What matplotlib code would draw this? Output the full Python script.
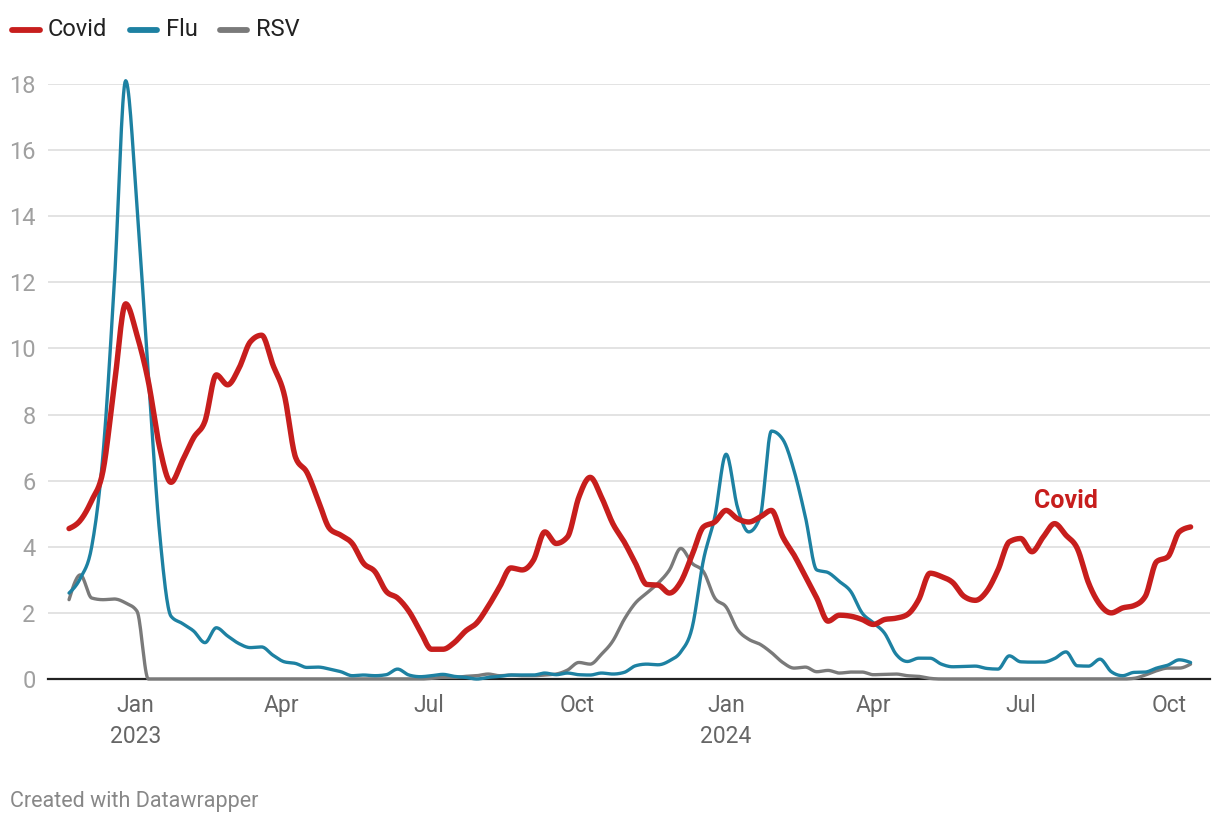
import numpy as np
import pandas as pd
import matplotlib.pyplot as plt
import matplotlib.dates as mdates

plt.rcParams['font.family'] = ['Roboto', 'DejaVu Sans']

# weekly values, Nov 2022 - Oct 2024
weeks = pd.date_range('2022-11-21', periods=100, freq='7D')

covid = [4.55, 4.8, 5.4, 6.3, 8.9, 11.35, 10.4, 9.0, 7.0, 5.95,
         6.6, 7.3, 7.8, 9.2, 8.9, 9.4, 10.2, 10.4, 9.5, 8.6,
         6.7, 6.25, 5.4, 4.55, 4.35, 4.1, 3.5, 3.25, 2.65, 2.45,
         2.05, 1.45, 0.9, 0.9, 1.1, 1.45, 1.7, 2.2, 2.78, 3.36,
         3.3, 3.6, 4.45, 4.1, 4.3, 5.5, 6.1, 5.5, 4.7, 4.15,
         3.5, 2.86, 2.84, 2.6, 2.94, 3.75, 4.6, 4.75, 5.1, 4.85,
         4.75, 4.9, 5.1, 4.3, 3.75, 3.1, 2.45, 1.75, 1.93, 1.9,
         1.8, 1.65, 1.8, 1.84, 1.95, 2.4, 3.2, 3.1, 2.92, 2.5,
         2.38, 2.65, 3.3, 4.15, 4.25, 3.85, 4.3, 4.7, 4.35, 3.95,
         2.9, 2.25, 2.0, 2.15, 2.22, 2.5, 3.55, 3.7, 4.45, 4.6]

flu = [2.6, 3.05, 4.0, 6.8, 12.0, 18.1, 14.3, 9.2, 4.4, 1.9,
       1.68, 1.45, 1.1, 1.55, 1.3, 1.07, 0.95, 0.97, 0.72, 0.52,
       0.47, 0.35, 0.36, 0.3, 0.22, 0.1, 0.12, 0.1, 0.13, 0.3,
       0.12, 0.07, 0.1, 0.14, 0.08, 0.05, 0.0, 0.05, 0.08, 0.12,
       0.12, 0.12, 0.18, 0.13, 0.18, 0.13, 0.12, 0.18, 0.15, 0.2,
       0.4, 0.45, 0.43, 0.55, 0.82, 1.55, 3.6, 4.9, 6.8, 5.2,
       4.45, 4.9, 7.5, 7.25, 6.3, 4.9, 3.3, 3.22, 2.95, 2.65,
       2.0, 1.7, 1.38, 0.75, 0.53, 0.63, 0.63, 0.45, 0.37, 0.38,
       0.39, 0.32, 0.3, 0.7, 0.52, 0.51, 0.51, 0.62, 0.82, 0.4,
       0.39, 0.6, 0.22, 0.1, 0.2, 0.21, 0.33, 0.42, 0.58, 0.5]

rsv = [2.4, 3.15, 2.45, 2.4, 2.42, 2.3, 2.05, 0.0, 0.0, 0.0,
       0.0, 0.0, 0.0, 0.0, 0.0, 0.0, 0.0, 0.0, 0.0, 0.0,
       0.0, 0.0, 0.0, 0.0, 0.0, 0.0, 0.0, 0.0, 0.0, 0.0,
       0.0, 0.0, 0.02, 0.05, 0.05, 0.08, 0.1, 0.15, 0.1, 0.12,
       0.1, 0.1, 0.12, 0.15, 0.27, 0.5, 0.45, 0.75, 1.15, 1.8,
       2.3, 2.6, 2.9, 3.3, 3.95, 3.5, 3.25, 2.45, 2.18, 1.5,
       1.2, 1.05, 0.8, 0.5, 0.33, 0.36, 0.22, 0.26, 0.18, 0.21,
       0.21, 0.13, 0.14, 0.15, 0.1, 0.08, 0.02, 0.0, 0.0, 0.0,
       0.0, 0.0, 0.0, 0.0, 0.0, 0.0, 0.0, 0.0, 0.0, 0.0,
       0.0, 0.0, 0.0, 0.0, 0.02, 0.12, 0.25, 0.33, 0.33, 0.45]

tick_dates = ['2023-01-01', '2023-04-01', '2023-07-01', '2023-10-01',
              '2024-01-01', '2024-04-01', '2024-07-01', '2024-10-01']
tick_labels = ['Jan\n2023', 'Apr', 'Jul', 'Oct', 'Jan\n2024', 'Apr', 'Jul', 'Oct']


def monotone(x, y, n=16):
    # monotone cubic curve like d3 curveMonotoneX
    x = np.asarray(x, float)
    y = np.asarray(y, float)
    h = np.diff(x)
    s = np.diff(y) / h
    m = np.zeros_like(y)
    for i in range(1, len(y) - 1):
        p = (s[i - 1] * h[i] + s[i] * h[i - 1]) / (h[i - 1] + h[i])
        m[i] = (np.sign(s[i - 1]) + np.sign(s[i])) * min(abs(s[i - 1]), abs(s[i]), 0.5 * abs(p))
    m[0] = (3 * s[0] - m[1]) / 2
    m[-1] = (3 * s[-1] - m[-2]) / 2
    xs, ys = [], []
    for i in range(len(h)):
        t = np.linspace(0, 1, n, endpoint=False)
        h00 = 2 * t**3 - 3 * t**2 + 1
        h10 = t**3 - 2 * t**2 + t
        h01 = -2 * t**3 + 3 * t**2
        h11 = t**3 - t**2
        xs.append(x[i] + t * h[i])
        ys.append(h00 * y[i] + h10 * h[i] * m[i] + h01 * y[i + 1] + h11 * h[i] * m[i + 1])
    xs.append([x[-1]])
    ys.append([y[-1]])
    return np.concatenate(xs), np.concatenate(ys)


fig = plt.figure(figsize=(12.2, 8.26), dpi=100)
W, H = 1220, 826
ax = fig.add_axes([48 / W, 1 - 679 / H, (1210 - 48) / W, (679 - 84) / H])

xnum = mdates.date2num(weeks)
for vals, col, lw in [(rsv, '#7a7a7a', 2.4), (flu, '#1d81a2', 2.4), (covid, '#c71e1d', 3.9)]:
    xs, ys = monotone(xnum, vals)
    ax.plot(xs, ys, color=col, lw=lw, solid_capstyle='round', solid_joinstyle='round', clip_on=False, zorder=3)

x0 = mdates.date2num(pd.Timestamp('2022-11-08'))
x1 = mdates.date2num(pd.Timestamp('2024-10-26'))
ax.set_xlim(x0, x1)
ax.set_ylim(0, 18)

ax.set_yticks(range(0, 19, 2))
ax.yaxis.grid(True, color='#e3e3e3', lw=1.4)
ax.set_axisbelow(True)
ax.tick_params(axis='y', length=0, pad=9, labelsize=17, labelcolor='#a0a0a0')
ax.set_xticks(mdates.date2num(pd.to_datetime(tick_dates)))
ax.set_xticklabels(tick_labels)
ax.tick_params(axis='x', length=0, pad=11, labelsize=16.5, labelcolor='#666666')
for lab in ax.get_xticklabels():
    lab.set_linespacing(1.42)
    lab.set_verticalalignment('top')

for sp in ['top', 'right', 'left']:
    ax.spines[sp].set_visible(False)
ax.spines['bottom'].set_color('#222222')
ax.spines['bottom'].set_linewidth(1.6)

ax.text(mdates.date2num(pd.Timestamp('2024-07-29')), 5.4, 'Covid', color='#c71e1d',
        fontsize=18, fontweight='bold', ha='center', va='center')

# legend at top
legend = [('Covid', '#c71e1d', 12, 40, 48), ('Flu', '#1d81a2', 130, 157, 166), ('RSV', '#7a7a7a', 220, 247, 256)]
for name, col, a, b, tx in legend:
    fig.add_artist(plt.Line2D([a / W, b / W], [1 - 30 / H, 1 - 30 / H], color=col, lw=4.2,
                              solid_capstyle='round'))
    fig.text(tx / W, 1 - 30 / H, name, fontsize=17, color='#222222', va='center', ha='left')

fig.text(10 / W, 1 - 802 / H, 'Created with Datawrapper', fontsize=15.5, color='#888888', va='center', ha='left')

fig.savefig('out.png', dpi=100, facecolor='white')
